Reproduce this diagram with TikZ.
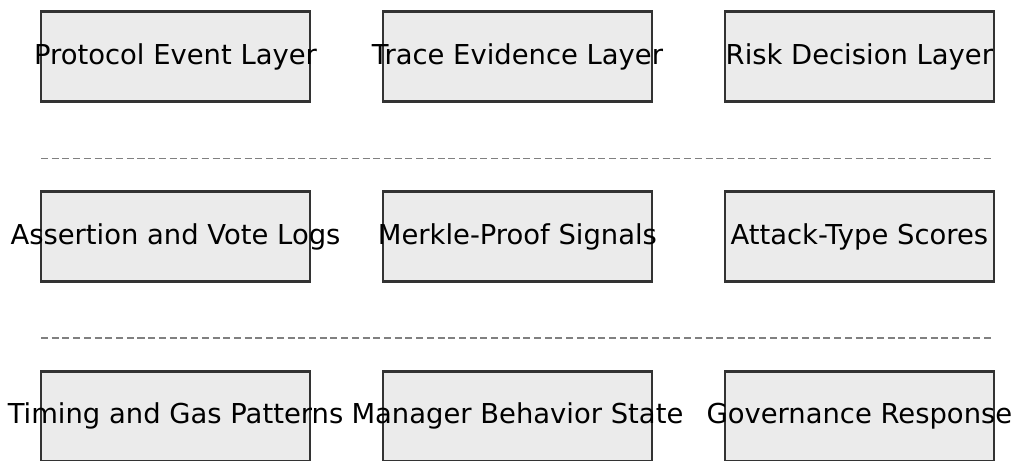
\documentclass[tikz,border=0pt]{standalone}
\usepackage{fontspec}
\setmainfont{DejaVu Sans}
\usetikzlibrary{calc}
\usetikzlibrary{positioning}
\definecolor{boxfill}{HTML}{EBEBEB}
\definecolor{boxline}{HTML}{333333}
\definecolor{sepgray}{HTML}{808080}
\tikzset{layerbox/.style={rectangle,
                        draw=boxline,
                        fill=boxfill,
                        line width=1.3pt,
                        minimum width=5.38cm,
                        minimum height=1.8cm,
                        outer sep=0pt,
                        inner sep=0pt
                        },
        every label/.style={font=\fontsize{15.6}{18}\selectfont, text=black, inner sep=0pt},
        sepline/.style={draw=sepgray, line width=0.75pt, dash pattern=on 4pt off 2.1pt},
}

\begin{document}
\begin{tikzpicture}
    [x=0.02cm,y=-0.02cm]

    \useasboundingbox (0,0) rectangle (1017,460);

    % TOP ROW
    \node[layerbox, label=center:Protocol Event Layer] (protocol) at (175.5,56.5) {};
    \node[layerbox, right=1.46cm of protocol, label=center:Trace Evidence Layer] (trace) {};
    \node[layerbox, right=1.46cm of trace, label=center:Risk Decision Layer] (risk) {};

    % MIDDLE ROW
    \node[layerbox, below=1.8cm of protocol, label=center:Assertion and Vote Logs] (assertion) {};
    \node[layerbox, below=1.8cm of trace, label=center:Merkle-Proof Signals] (merkle) {};
    \node[layerbox, below=1.8cm of risk, label=center:Attack-Type Scores] (attack) {};

    % BOTTOM ROW
    \node[layerbox, below=1.8cm of assertion, label=center:Timing and Gas Patterns] (timing) {};
    \node[layerbox, below=1.8cm of merkle, label=center:Manager Behavior State] (manager) {};
    \node[layerbox, below=1.8cm of attack, label=center:Governance Response] (governance) {};

    % SEPARATORS
    \coordinate (sepA) at ($(protocol.south west)!0.63!(assertion.north west)$);
    \coordinate (sepB) at ($(risk.south east)!0.63!(attack.north east)$);
    \coordinate (sepC) at ($(assertion.south west)!0.63!(timing.north west)$);
    \coordinate (sepD) at ($(attack.south east)!0.63!(governance.north east)$);
    \draw[sepline] (sepA) -- (sepB);
    \draw[sepline] (sepC) -- (sepD);

\end{tikzpicture}
\end{document}
